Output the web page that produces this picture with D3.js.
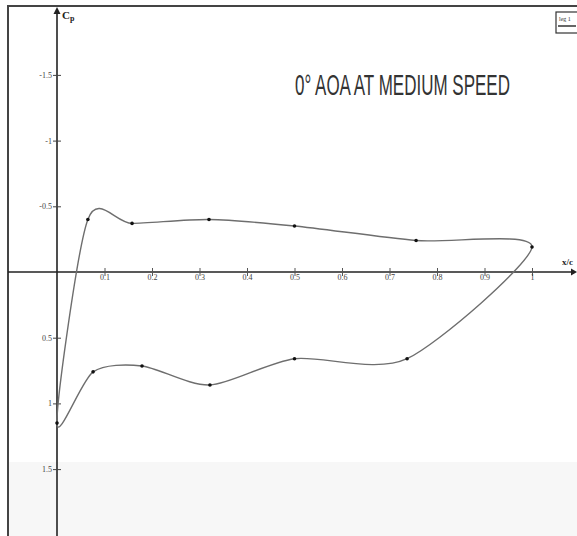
<!DOCTYPE html>
<html>
<head>
<meta charset="utf-8">
<script src="https://cdn.jsdelivr.net/npm/d3@7"></script>
<style>
  body { margin: 0; background: #fff; }
  svg { display: block; }
</style>
</head>
<body>
<svg id="chart"></svg>
<script>
// pressure coefficient
const upperX  = [0.065, 0.158, 0.32, 0.50, 0.756, 1.0];
const upperCp = [-0.40, -0.37, -0.40, -0.35, -0.24, -0.19];
const lowerX  = [0, 0.076, 0.179, 0.322, 0.50, 0.737];
const lowerCp = [1.15, 0.76, 0.715, 0.86, 0.66, 0.66];

const xTicks = [0.1, 0.2, 0.3, 0.4, 0.5, 0.6, 0.7, 0.8, 0.9, 1];
const xTickLabels = ["0.1", "0.2", "0.3", "0.4", "0.5", "0.6", "0.7", "0.8", "0.9", "1"];
const yTicks = [-1.5, -1, -0.5, 0.5, 1, 1.5];
const yTickLabels = ["-1.5", "-1", "-0.5", "0.5", "1", "1.5"];

const W = 577, H = 536;
const svg = d3.select("#chart").attr("width", W).attr("height", H);

svg.append("rect").attr("width", W).attr("height", H).attr("fill", "#fff");
// greyish bottom of the scan
svg.append("rect").attr("x", 8).attr("y", 462).attr("width", W).attr("height", 80)
  .attr("fill", "#f7f7f7");

// Skalaer
const x = d3.scaleLinear().domain([0, 1]).range([57, 532]);
const y = d3.scaleLinear().domain([-2, 2]).range([9.2, 534.8]);

// frame
svg.append("path")
  .attr("d", `M8,${H} V6 H${W}`)
  .attr("fill", "none").attr("stroke", "#444").attr("stroke-width", 2);

// axes
const ink = "#222";
svg.append("line").attr("x1", 8).attr("x2", W - 4).attr("y1", y(0)).attr("y2", y(0))
  .attr("stroke", ink).attr("stroke-width", 1.6);
svg.append("path").attr("d", `M${W},${y(0)} l-6,-3.5 v7 z`).attr("fill", ink);
svg.append("line").attr("x1", x(0)).attr("x2", x(0)).attr("y1", 12).attr("y2", H)
  .attr("stroke", ink).attr("stroke-width", 1.6);
svg.append("path").attr("d", `M${x(0)},7 l-3.5,7 h7 z`).attr("fill", ink);

const tickFont = "'Liberation Serif', 'DejaVu Serif', serif";

const xAxis = d3.axisBottom(x).tickValues(xTicks).tickSize(0)
  .tickFormat((d, i) => xTickLabels[i]);
const gx = svg.append("g").attr("transform", `translate(0,${y(0)})`).call(xAxis);
gx.select(".domain").remove();
gx.selectAll(".tick line").attr("y1", -4).attr("y2", 4).attr("stroke", "#555");
gx.selectAll(".tick text").attr("dy", "0.2em").attr("y", 6)
  .style("font-family", tickFont).style("font-size", "8px").attr("fill", "#444");

const yAxis = d3.axisLeft(y).tickValues(yTicks).tickSize(0)
  .tickFormat((d, i) => yTickLabels[i]);
const gy = svg.append("g").attr("transform", `translate(${x(0)},0)`).call(yAxis);
gy.select(".domain").remove();
gy.selectAll(".tick line").attr("x1", -4).attr("x2", 4).attr("stroke", "#444");
gy.selectAll(".tick text").attr("x", -5)
  .style("font-family", tickFont).style("font-size", "8px").attr("fill", "#444");

// axis titles
svg.append("text").attr("x", 62).attr("y", 19)
  .style("font-family", tickFont).style("font-size", "11px").style("font-weight", "bold")
  .attr("fill", ink)
  .html("C<tspan dy='2' font-size='8px'>p</tspan>");
svg.append("text").attr("x", 562).attr("y", 265)
  .style("font-family", tickFont).style("font-size", "9px").style("font-weight", "bold")
  .attr("fill", ink).text("x/c");

// closed loop: upper surface TE -> LE, lower surface LE -> TE
const loop = [];
for (let i = upperX.length - 1; i >= 0; i--) loop.push([upperX[i], upperCp[i]]);
for (let i = 0; i < lowerX.length; i++) loop.push([lowerX[i], lowerCp[i]]);

const line = d3.line()
  .x(d => x(d[0]))
  .y(d => y(d[1]))
  .curve(d3.curveCardinalClosed.tension(0.2));

svg.append("path")
  .datum(loop)
  .attr("d", line)
  .attr("fill", "none")
  .attr("stroke", "#6e6e6e")
  .attr("stroke-width", 1.4);

svg.selectAll("circle.pt")
  .data(loop)
  .enter()
  .append("circle")
  .attr("class", "pt")
  .attr("cx", d => x(d[0]))
  .attr("cy", d => y(d[1]))
  .attr("r", 1.8)
  .attr("fill", "#111");

// title -- condensed look, squeeze horizontally to ~215px
const title = svg.append("text")
  .style("font-family", "'Liberation Sans', Arial, sans-serif")
  .style("font-size", "29px")
  .attr("fill", "#333")
  .text("0° AOA AT MEDIUM SPEED");
const tw = title.node().getComputedTextLength();
title.attr("transform", `translate(295,95) scale(${215 / tw},1)`);

// little legend box, top right
const lg = svg.append("g").attr("transform", "translate(556,12)");
lg.append("rect").attr("width", 24).attr("height", 21)
  .attr("fill", "#fff").attr("stroke", "#333").attr("stroke-width", 1.2);
lg.append("text").attr("x", 3).attr("y", 9)
  .style("font-family", tickFont).style("font-size", "6px").attr("fill", "#333")
  .text("leg 1");
lg.append("line").attr("x1", 2).attr("x2", 20).attr("y1", 14).attr("y2", 14)
  .attr("stroke", "#333").attr("stroke-width", 1.5);
</script>
</body>
</html>
